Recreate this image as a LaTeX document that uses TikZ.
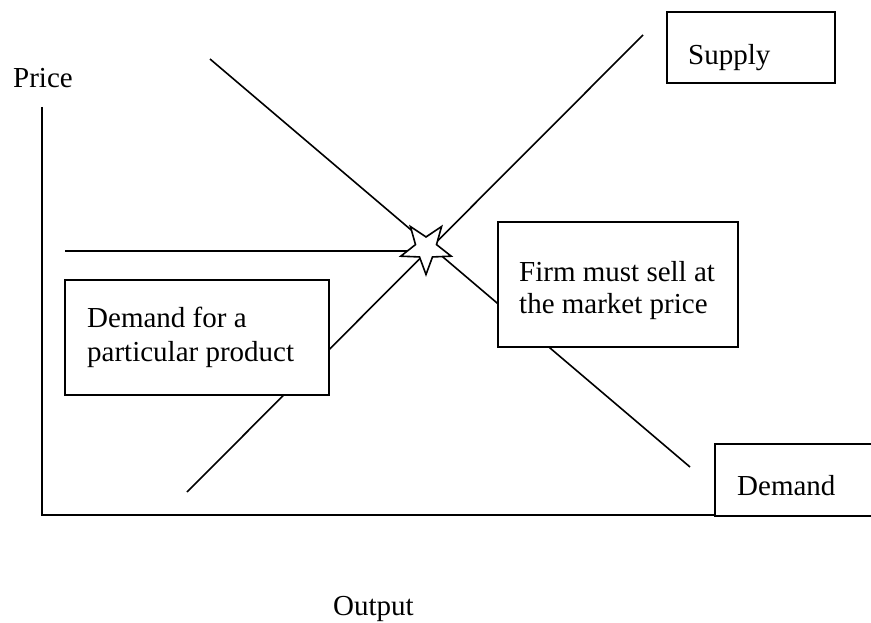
\documentclass[tikz,border=0pt]{standalone}
\usepackage{fontspec}
\setmainfont{Liberation Serif}
\usetikzlibrary{shapes.geometric}
\begin{document}
\begin{tikzpicture}[x=1pt,y=-1pt,
  curve/.style={line width=1.6pt},
  box/.style={draw, line width=2pt, fill=white, rectangle, inner sep=0pt},
  lbl/.style={inner sep=0pt, anchor=base west, font=\fontsize{29}{32}\selectfont, align=left}]
\clip (0,0) rectangle (871,623);
\fill[white] (0,0) rectangle (871,623);
% coordinates
\coordinate (yt) at (42,107);
\coordinate (o) at (42,515);
\coordinate (xe) at (871,515);
\coordinate (s0) at (187,492);
\coordinate (s1) at (643,35);
\coordinate (d0) at (210,59);
\coordinate (d1) at (690,467);
\coordinate (p0) at (65,251);
\coordinate (eq) at (426,248);
% axes
\draw[curve] (yt) -- (o) -- (xe);
% curves
\draw[curve] (s0) -- (s1);
\draw[curve] (d0) -- (d1);
\draw[curve] (p0) -- (p0 -| eq);
% equilibrium star
\node[star, star points=5, star point ratio=2.4, minimum size=53pt, inner sep=0pt,
      shape border rotate=180, draw, fill=white, line width=1.6pt] (star) at (eq) {};
% boxes
\node[box, minimum width=168pt, minimum height=71pt] (supplybox) at (751,47.5) {};
\node[box, minimum width=240pt, minimum height=125pt] (firmbox) at (618,284.5) {};
\node[box, minimum width=264pt, minimum height=115pt] (demforbox) at (197,337.5) {};
\node[box, minimum width=170pt, minimum height=72pt] (demandbox) at (800,480) {};
% texts
\node[lbl] (price) at (13,88) {Price};
\node[lbl] (output) at (333,615) {Output};
\node[lbl] (supplyt) at (688,65) {Supply};
\node[lbl] (demt) at (737,495) {Demand};
\node[lbl, font=\fontsize{29}{31.5}\selectfont] (firmt) at (519,313) {Firm must sell at\\the market price};
\node[lbl, font=\fontsize{29}{34}\selectfont] (demfort) at (87,361) {Demand for a\\particular product};
\end{tikzpicture}
\end{document}
